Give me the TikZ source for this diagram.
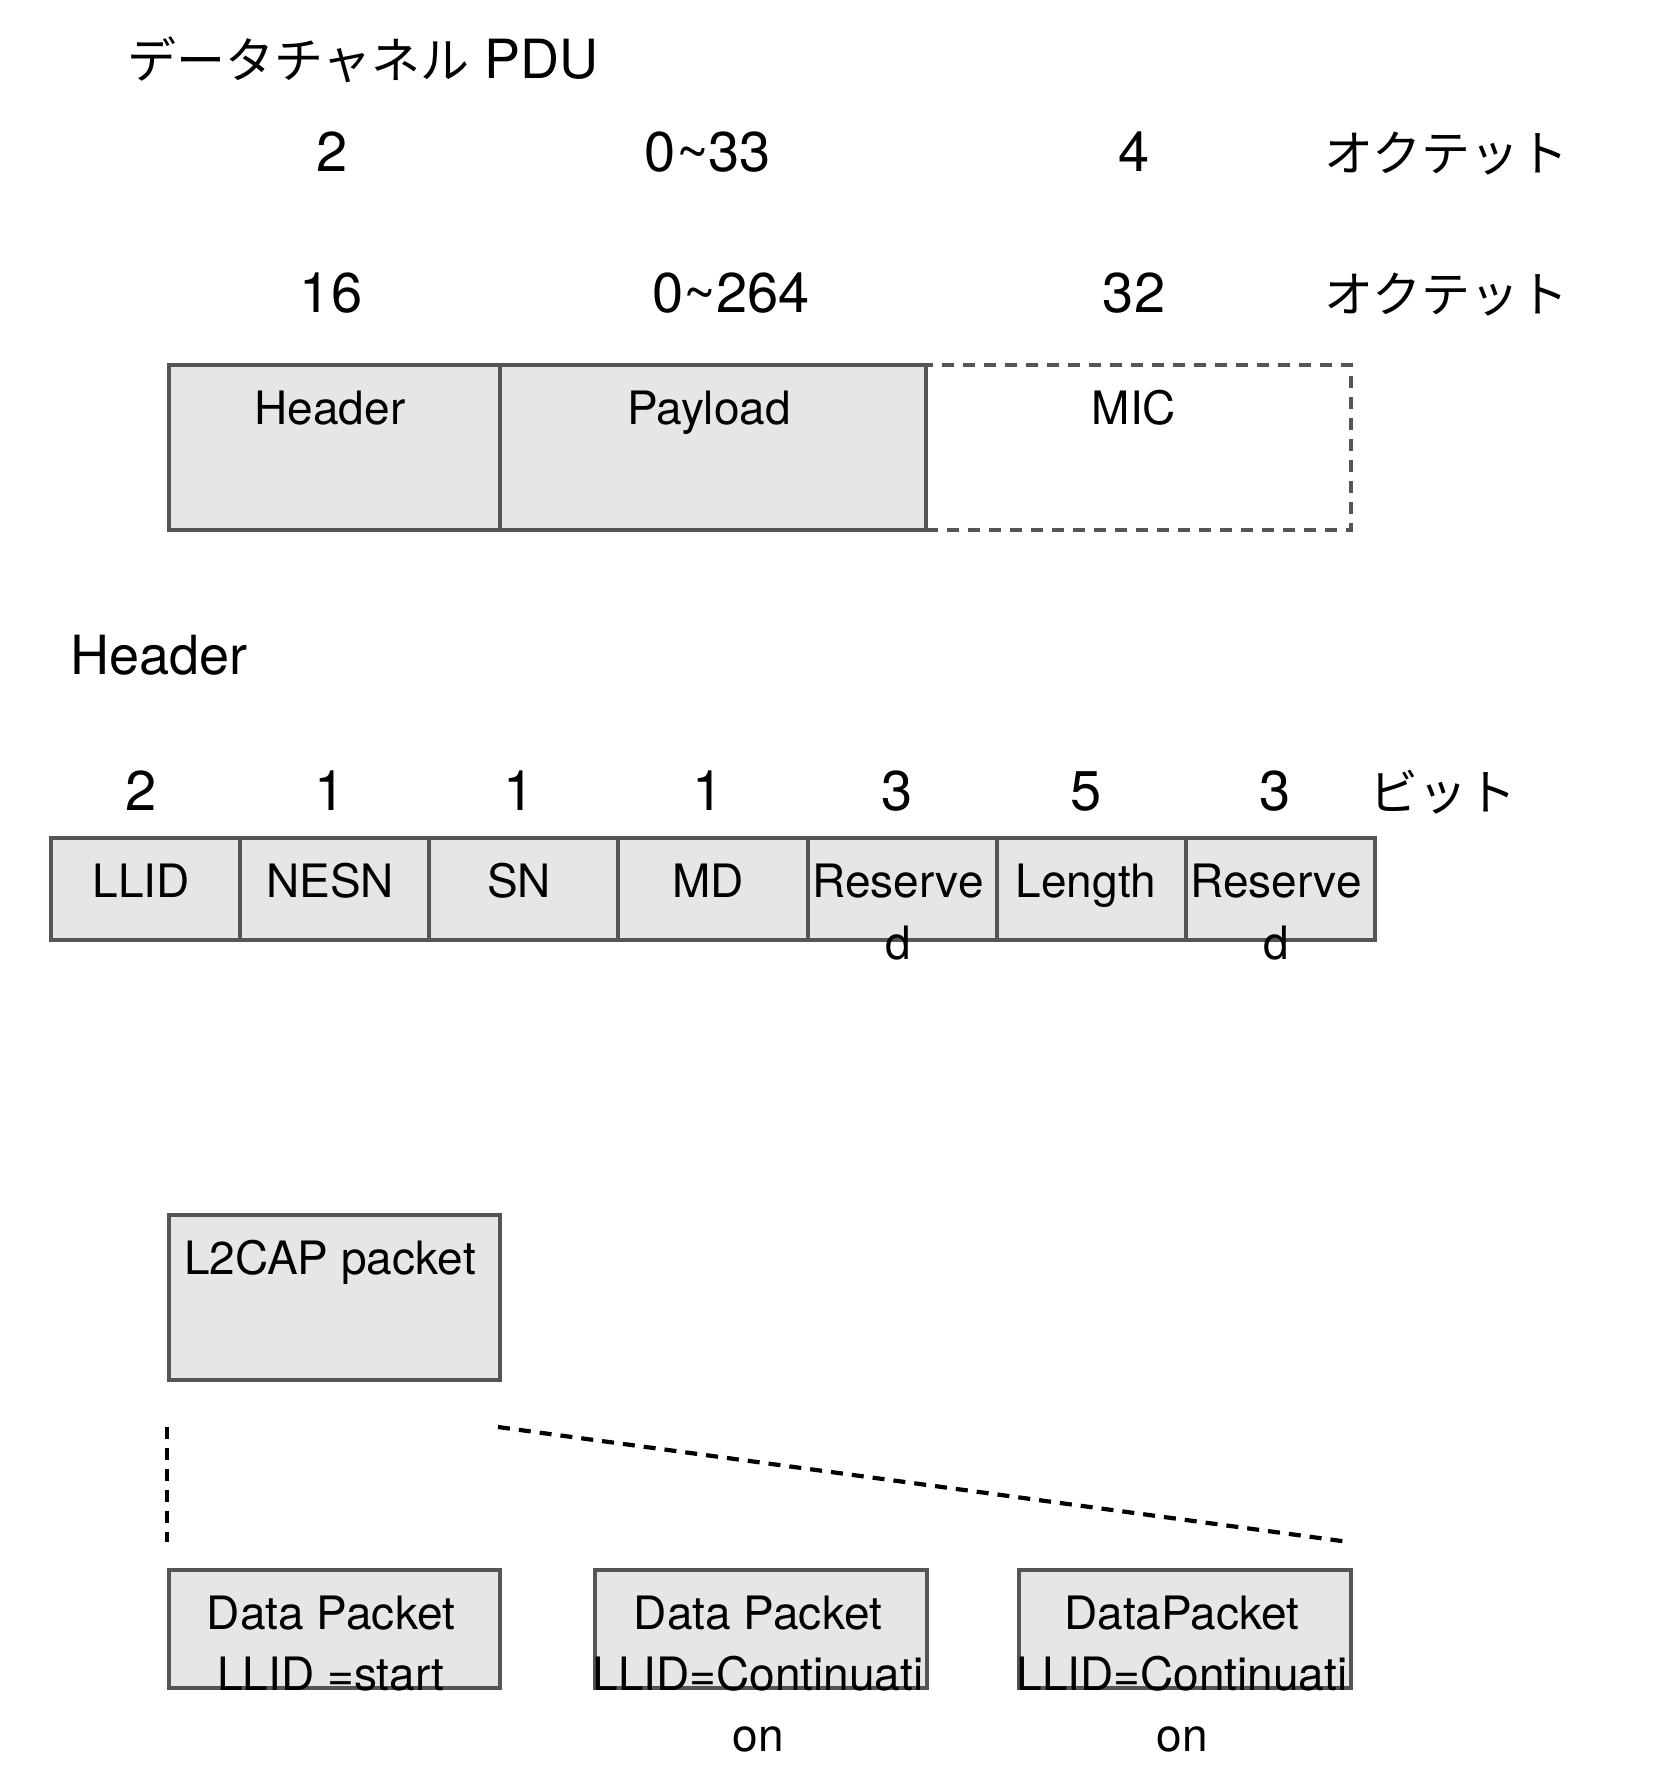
\documentclass[tikz,border=0pt]{standalone}
\usepackage{fontspec}
\setmainfont{TeX Gyre Heros}
\newfontfamily\jp{Noto Sans CJK JP}
\definecolor{boxgray}{HTML}{555555}
\definecolor{boxfill}{HTML}{E6E6E6}
\begin{document}
\begin{tikzpicture}[x=0.5pt,y=-0.5pt,
  box/.style={draw=boxgray, fill=boxfill, line width=2pt, inner sep=0pt, anchor=north west},
  dbox/.style={draw=boxgray, dash pattern=on 6pt off 4.5pt, line width=2pt, inner sep=0pt, anchor=north west},
  lbl/.style={inner sep=0pt, anchor=base, font=\fontsize{23}{27}\selectfont},
  num/.style={inner sep=0pt, anchor=base, font=\fontsize{28}{34}\selectfont},
  jpl/.style={inner sep=0pt, anchor=base, font=\jp\fontsize{24.5}{30}\selectfont},
  cut/.style={line width=2.1pt, dash pattern=on 6pt off 4.5pt}]
\useasboundingbox (0,0) rectangle (1654,1772);

% title
\node[inner sep=0pt, anchor=base west, font=\fontsize{27}{32}\selectfont] (title) at (127,78)
  {{\jp\fontsize{24.5}{30}\selectfont データチャネル} PDU};

% octet sizes
\node[num] (o1) at (332,171) {2};
\node[num] (o2) at (708,171) {0\textasciitilde33};
\node[num] (o3) at (1134,171) {4};
\node[jpl] (o4) at (1446,171) {オクテット};
\node[num] (p1) at (331,312) {16};
\node[num] (p2) at (731,312) {0\textasciitilde264};
\node[num] (p3) at (1134,312) {32};
\node[jpl] (p4) at (1446,312) {オクテット};

% PDU boxes
\node[dbox, minimum width=212.5pt, minimum height=82.5pt] (mic) at (924,363) {};
\node[box, minimum width=165.5pt, minimum height=82.5pt] (hdr) at (167,363) {};
\node[box, minimum width=213pt, minimum height=82.5pt] (pay) at (498,363) {};
\node[lbl] (hdrl) at (330,424) {Header};
\node[lbl] (payl) at (709,424) {Payload};
\node[lbl] (micl) at (1134,424) {MIC};

% Header section
\node[inner sep=0pt, anchor=base west, font=\fontsize{27}{32}\selectfont] (hsec) at (70,674) {Header};

\node[num] (n1) at (141,810) {2};
\node[num] (n2) at (330,810) {1};
\node[num] (n3) at (519,810) {1};
\node[num] (n4) at (708,810) {1};
\node[num] (n5) at (897,810) {3};
\node[num] (n6) at (1086,810) {5};
\node[num] (n7) at (1275,810) {3};
\node[jpl] (n8) at (1443,810) {ビット};

\node[box, minimum width=94.57pt, minimum height=51pt] (b1) at (49,836) {};
\node[box, minimum width=94.57pt, minimum height=51pt] (b2) at (238.14,836) {};
\node[box, minimum width=94.57pt, minimum height=51pt] (b3) at (427.29,836) {};
\node[box, minimum width=94.57pt, minimum height=51pt] (b4) at (616.43,836) {};
\node[box, minimum width=94.57pt, minimum height=51pt] (b5) at (805.57,836) {};
\node[box, minimum width=94.57pt, minimum height=51pt] (b6) at (994.71,836) {};
\node[box, minimum width=94.57pt, minimum height=51pt] (b7) at (1183.86,836) {};
\node[lbl] (b1l) at (141,897) {LLID};
\node[lbl] (b2l) at (330,897) {NESN};
\node[lbl] (b3l) at (519,897) {SN};
\node[lbl] (b4l) at (708,897) {MD};
\node[lbl] (b5l) at (898,897) {Reserve};
\node[lbl] (b5m) at (898,959) {d};
\node[lbl] (b6l) at (1086,897) {Length};
\node[lbl] (b7l) at (1276,897) {Reserve};
\node[lbl] (b7m) at (1276,959) {d};

% L2CAP
\node[box, minimum width=165.5pt, minimum height=82.5pt] (l2) at (167,1213) {};
\node[lbl] (l2l) at (330,1274) {L2CAP packet};

% fragment lines
\coordinate (c1) at (167,1427);
\coordinate (c2) at (167,1542);
\coordinate (c3) at (498,1427);
\coordinate (c4) at (1349,1542);
\draw[cut] (c1) -- (c2);
\draw[cut] (c3) -- (c4);

% data packets
\node[box, minimum width=165.5pt, minimum height=59pt] (d1) at (167,1568) {};
\node[box, minimum width=166pt, minimum height=59pt] (d2) at (593,1568) {};
\node[box, minimum width=166pt, minimum height=59pt] (d3) at (1017,1568) {};
\node[lbl] (d1a) at (331,1629) {Data Packet};
\node[lbl] (d1b) at (331,1690) {LLID =start};
\node[lbl] (d2a) at (758,1629) {Data Packet};
\node[lbl] (d2b) at (758,1690) {LLID=Continuati};
\node[lbl] (d2c) at (758,1751) {on};
\node[lbl] (d3a) at (1182,1629) {DataPacket};
\node[lbl] (d3b) at (1182,1690) {LLID=Continuati};
\node[lbl] (d3c) at (1182,1751) {on};
\end{tikzpicture}
\end{document}
